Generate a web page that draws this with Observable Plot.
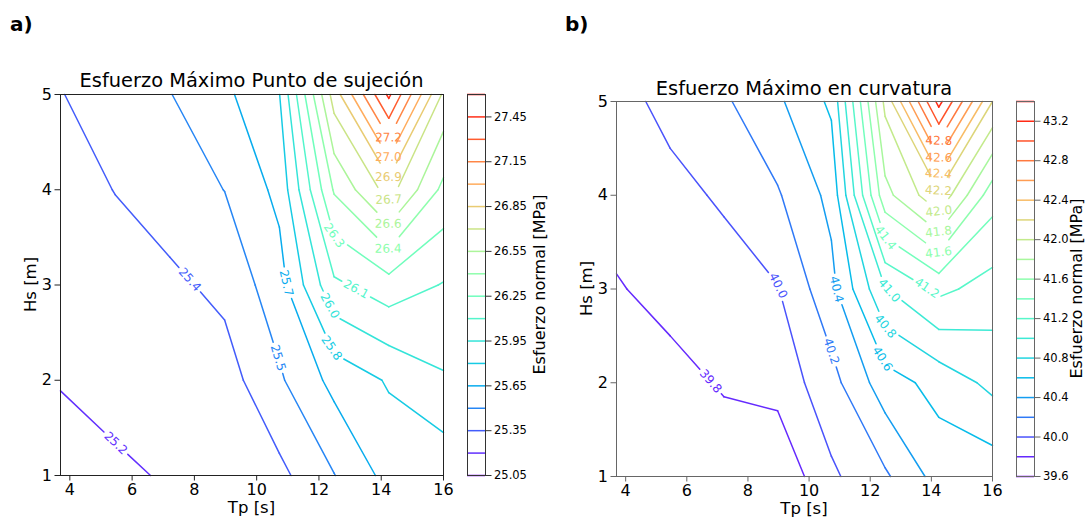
<!DOCTYPE html>
<html><head><meta charset="utf-8">
<script src="https://cdn.jsdelivr.net/npm/d3@7"></script>
<script src="https://cdn.jsdelivr.net/npm/@observablehq/plot@0.6"></script>
<style>
body{margin:0;background:#fff;font-family:"DejaVu Sans",sans-serif;}
#root{position:relative;width:1086px;height:521px;overflow:hidden;background:#fff}
#root > div{position:absolute;top:0}
#root svg{overflow:visible}
</style></head><body><div id="root"></div>
<script>
// ---------------- data ----------------
const tpGrid = [3.7, 5.457, 7.214, 8.971, 10.729, 12.486, 14.243, 16.0];
const hsGrid = [1, 2, 3, 4, 5];
// panel a) stress at grid nodes, rows = Hs 1..5, columns = tpGrid
const valuesA = [
  [25.160, 25.180, 25.211, 25.260, 25.311, 25.495, 25.700, 25.690],
  [25.205, 25.238, 25.260, 25.283, 25.479, 25.695, 25.815, 25.934],
  [25.252, 25.295, 25.318, 25.389, 25.588, 26.070, 26.185, 26.091],
  [25.298, 25.353, 25.428, 25.502, 25.690, 26.416, 26.760, 26.360],
  [25.345, 25.410, 25.495, 25.618, 25.795, 26.770, 27.480, 26.670]
];
// panel b)
const valuesB = [
  [39.680, 39.640, 39.630, 39.636, 39.964, 40.168, 40.480, 40.475],
  [39.730, 39.696, 39.830, 39.870, 40.130, 40.510, 40.670, 40.853],
  [39.775, 39.904, 39.923, 39.990, 40.340, 40.990, 41.250, 41.115],
  [39.930, 39.950, 40.023, 40.180, 40.455, 41.735, 42.155, 41.485],
  [39.940, 40.050, 40.170, 40.366, 40.636, 42.050, 43.267, 42.200]
];
const levelsA = [25.05, 25.20, 25.35, 25.50, 25.65, 25.80, 25.95, 26.10, 26.25, 26.40, 26.55, 26.70, 26.85, 27.00, 27.15, 27.30, 27.45, 27.60];
const levelsB = [39.6, 39.8, 40.0, 40.2, 40.4, 40.6, 40.8, 41.0, 41.2, 41.4, 41.6, 41.8, 42.0, 42.2, 42.4, 42.6, 42.8, 43.0, 43.2, 43.4];
const cbTicksA = [25.05, 25.35, 25.65, 25.95, 26.25, 26.55, 26.85, 27.15, 27.45];
const cbTicksB = [39.6, 40.0, 40.4, 40.8, 41.2, 41.6, 42.0, 42.4, 42.8, 43.2];
const xTicks = [4, 6, 8, 10, 12, 14, 16];
const yTicks = [1, 2, 3, 4, 5];
// inline contour labels: [text, level, Tp, Hs]
const labelsA = [
  ["25.2", 25.20, 5.48, 1.34], ["25.4", 25.35, 7.76, 3.03], ["25.5", 25.50, 10.74, 2.24],
  ["25.7", 25.65, 10.94, 3.02], ["25.8", 25.80, 12.49, 2.35], ["26.0", 25.95, 12.49, 2.80],
  ["26.1", 26.10, 13.30, 3.02], ["26.3", 26.25, 12.49, 3.52], ["26.4", 26.40, 14.22, 3.38],
  ["26.6", 26.55, 14.22, 3.64], ["26.7", 26.70, 14.22, 3.89], ["26.9", 26.85, 14.22, 4.13],
  ["27.0", 27.00, 14.22, 4.34], ["27.2", 27.15, 14.22, 4.545]
];
const labelsB = [
  ["39.8", 39.8, 6.80, 2.02], ["40.0", 40.0, 9.03, 3.04], ["40.2", 40.2, 10.77, 2.34],
  ["40.4", 40.4, 10.93, 3.00], ["40.6", 40.6, 12.51, 2.27], ["40.8", 40.8, 12.51, 2.61],
  ["41.0", 41.0, 12.61, 2.98], ["41.2", 41.2, 13.87, 3.02], ["41.4", 41.4, 12.51, 3.55],
  ["41.6", 41.6, 14.24, 3.39], ["41.8", 41.8, 14.24, 3.61], ["42.0", 42.0, 14.24, 3.82],
  ["42.2", 42.2, 14.24, 4.05], ["42.4", 42.4, 14.24, 4.23], ["42.6", 42.6, 14.24, 4.40],
  ["42.8", 42.8, 14.24, 4.58]
];

// ---------------- helpers ----------------
const X_DOMAIN = [3.7, 16], Y_DOMAIN = [1, 5];
const FONT = "DejaVu Sans";
const LABEL_FS = 12;
function rainbow(t) {
  t = Math.max(0, Math.min(1, t));
  const r = Math.min(1, Math.abs(2 * t - 0.5)), g = Math.sin(Math.PI * t), b = Math.cos(Math.PI * t / 2);
  return d3.rgb(r * 255, g * 255, b * 255).formatHex();
}
function contourSegments(values, level) {
  const segs = [];
  for (let j = 0; j < hsGrid.length - 1; j++) for (let i = 0; i < tpGrid.length - 1; i++) {
    const x0 = tpGrid[i], x1 = tpGrid[i + 1], y0 = hsGrid[j], y1 = hsGrid[j + 1];
    const vbl = values[j][i], vbr = values[j][i + 1], vtr = values[j + 1][i + 1], vtl = values[j + 1][i];
    const cross = (a, b) => (a > level) !== (b > level);
    const lerp = (a, b, va, vb) => a + (level - va) / (vb - va) * (b - a);
    const p = {};
    if (cross(vbl, vbr)) p.b = [lerp(x0, x1, vbl, vbr), y0];
    if (cross(vbr, vtr)) p.r = [x1, lerp(y0, y1, vbr, vtr)];
    if (cross(vtl, vtr)) p.t = [lerp(x0, x1, vtl, vtr), y1];
    if (cross(vbl, vtl)) p.l = [x0, lerp(y0, y1, vbl, vtl)];
    const k = Object.keys(p);
    if (k.length === 2) segs.push([p[k[0]], p[k[1]]]);
    else if (k.length === 4) {
      const c = (vbl + vbr + vtr + vtl) / 4;
      if ((c > level) === (vbl > level)) { segs.push([p.b, p.r]); segs.push([p.t, p.l]); }
      else { segs.push([p.l, p.b]); segs.push([p.r, p.t]); }
    }
  }
  return segs;
}
function nearestOnSeg(A, B, P) {
  const dx = B[0] - A[0], dy = B[1] - A[1];
  const L = dx * dx + dy * dy;
  let t = L ? ((P[0] - A[0]) * dx + (P[1] - A[1]) * dy) / L : 0;
  t = Math.max(0, Math.min(1, t));
  return [A[0] + t * dx, A[1] + t * dy];
}
function circleT(A, B, C, r) {
  const dx = B[0] - A[0], dy = B[1] - A[1], fx = A[0] - C[0], fy = A[1] - C[1];
  const a = dx * dx + dy * dy, b = 2 * (fx * dx + fy * dy), c = fx * fx + fy * fy - r * r;
  const disc = b * b - 4 * a * c;
  if (disc <= 0 || a === 0) return null;
  const s = Math.sqrt(disc);
  return [(-b - s) / (2 * a), (-b + s) / (2 * a)];
}
function textWidth(s, fs) {
  let w = 0;
  for (const ch of s) w += ch === "." ? 0.318 : 0.636;
  return w * fs;
}
function panelData(values, levels, labels, aw, ah) {
  const [x0, x1] = X_DOMAIN, [y0, y1] = Y_DOMAIN;
  const kx = aw / (x1 - x0), ky = ah / (y1 - y0);
  const toPx = p => [(p[0] - x0) * kx, (y1 - p[1]) * ky];
  const fromPx = p => [x0 + p[0] / kx, y1 - p[1] / ky];
  const vmin = levels[0], vmax = levels[levels.length - 1];
  const color = v => rainbow((v - vmin) / (vmax - vmin));
  const segsByLevel = levels.map(L => contourSegments(values, L).map(s => s.map(toPx)));
  const circles = levels.map(() => []);
  const labelOut = [];
  for (const [text, L, tp, hs] of labels) {
    const li = levels.findIndex(v => Math.abs(v - L) < 1e-9);
    const segs = segsByLevel[li];
    const P = toPx([tp, hs]);
    let best = null, bd = Infinity;
    for (const [A, B] of segs) {
      const q = nearestOnSeg(A, B, P);
      const d = (q[0] - P[0]) ** 2 + (q[1] - P[1]) ** 2;
      if (d < bd) { bd = d; best = q; }
    }
    if (!best) continue;
    const r = textWidth(text, LABEL_FS) / 2;
    const hits = [];
    for (const [A, B] of segs) {
      const ts = circleT(A, B, best, r);
      if (!ts) continue;
      for (const t of ts) if (t >= 0 && t <= 1) hits.push([A[0] + t * (B[0] - A[0]), A[1] + t * (B[1] - A[1])]);
    }
    let ang = 0, bestD = -1;
    for (let i = 0; i < hits.length; i++) for (let j = i + 1; j < hits.length; j++) {
      const dx = hits[j][0] - hits[i][0], dy = hits[j][1] - hits[i][1], d = dx * dx + dy * dy;
      if (d > bestD) { bestD = d; ang = Math.atan2(dy, dx) * 180 / Math.PI; }
    }
    if (ang > 90) ang -= 180;
    if (ang < -90) ang += 180;
    const [lx, ly] = fromPx(best);
    labelOut.push({x: lx, y: ly, text, angle: ang, color: color(L)});
    circles[li].push({c: best, r: r + 3});
  }
  const segOut = [];
  segsByLevel.forEach((segs, li) => {
    for (const [A, B] of segs) {
      let keep = [[0, 1]];
      for (const {c, r} of circles[li]) {
        const ts = circleT(A, B, c, r);
        if (!ts) continue;
        const [t1, t2] = ts;
        const next = [];
        for (const [s, e] of keep) {
          if (t2 <= s || t1 >= e) { next.push([s, e]); continue; }
          if (t1 > s) next.push([s, t1]);
          if (t2 < e) next.push([t2, e]);
        }
        keep = next;
      }
      for (const [s, e] of keep) {
        const p = [A[0] + s * (B[0] - A[0]), A[1] + s * (B[1] - A[1])];
        const q = [A[0] + e * (B[0] - A[0]), A[1] + e * (B[1] - A[1])];
        const [ax, ay] = fromPx(p), [bx, by] = fromPx(q);
        segOut.push({x1: ax, y1: ay, x2: bx, y2: by, color: color(levels[li])});
      }
    }
  });
  return {segOut, labelOut, color};
}

// ---------------- drawing ----------------
const root = document.getElementById("root");
function place(node, left) {
  const div = document.createElement("div");
  div.style.left = left + "px";
  div.appendChild(node);
  root.appendChild(div);
}
function mainPlot({values, levels, labels, width, mL, mR, mT, mB, frame}) {
  const aw = width - mL - mR, ah = 521 - mT - mB;
  const {segOut, labelOut} = panelData(values, levels, labels, aw, ah);
  return Plot.plot({
    width, height: 521, marginLeft: mL, marginRight: mR, marginTop: mT, marginBottom: mB,
    style: {background: "none", fontFamily: FONT, overflow: "visible"},
    x: {domain: X_DOMAIN}, y: {domain: Y_DOMAIN}, color: {type: "identity"},
    marks: [
      Plot.link(segOut, {x1: "x1", y1: "y1", x2: "x2", y2: "y2", stroke: "color", strokeWidth: 1.5, strokeLinecap: "round"}),
      Plot.text(labelOut, {x: "x", y: "y", text: "text", rotate: "angle", fill: "color", fontSize: LABEL_FS, fontFamily: FONT, textAnchor: "middle", lineAnchor: "middle"}),
      Plot.frame({stroke: frame}),
      Plot.axisX({ticks: xTicks, tickFormat: d3.format("d"), tickSize: 5.5, tickPadding: 3, fontSize: 16, stroke: frame, fill: "#000", label: null}),
      Plot.axisY({ticks: yTicks, tickFormat: d3.format("d"), tickSize: 5.5, tickPadding: 3, fontSize: 16, stroke: frame, fill: "#000", label: null})
    ]
  });
}
function colorbar({levels, ticks, fmt, width, mL, mT, mB, frame}) {
  const vmin = levels[0], vmax = levels[levels.length - 1];
  return Plot.plot({
    width, height: 521, marginLeft: mL, marginRight: width - mL - 18, marginTop: mT, marginBottom: mB,
    style: {background: "none", fontFamily: FONT, overflow: "visible"},
    x: {domain: [0, 1], axis: null}, y: {domain: [vmin, vmax]}, color: {type: "identity"},
    marks: [
      Plot.ruleY(levels, {y: d => d, stroke: d => rainbow((d - vmin) / (vmax - vmin)), strokeWidth: 1.5}),
      Plot.frame({stroke: frame}),
      Plot.axisY({anchor: "right", ticks, tickFormat: d3.format(fmt), tickSize: 5.5, tickPadding: 3, fontSize: 11.5, stroke: frame, fill: "#000", label: null})
    ]
  });
}

place(mainPlot({values: valuesA, levels: levelsA, labels: labelsA, width: 460, mL: 60, mR: 17, mT: 94, mB: 46, frame: "#222"}), 0);
place(colorbar({levels: levelsA, ticks: cbTicksA, fmt: ".2f", width: 100, mL: 27, mT: 94, mB: 46, frame: "#333"}), 440);
place(mainPlot({values: valuesB, levels: levelsB, labels: labelsB, width: 453, mL: 60, mR: 17, mT: 101, mB: 45, frame: "#666"}), 556);
place(colorbar({levels: levelsB, ticks: cbTicksB, fmt: ".1f", width: 96, mL: 26, mT: 101, mB: 45, frame: "#666"}), 990);

// ---------------- titles and axis labels ----------------
const ov = d3.select(root).append("svg")
  .attr("width", 1086).attr("height", 521)
  .style("position", "absolute").style("left", 0).style("top", 0)
  .style("font-family", FONT).style("pointer-events", "none");
const T = (x, y, s, o = {}) => {
  const t = ov.append("text").attr("x", x).attr("y", y).text(s)
    .attr("font-size", o.fs || 16).attr("text-anchor", o.anchor || "middle").attr("fill", "#000");
  if (o.bold) t.attr("font-weight", "bold");
  if (o.rot) t.attr("transform", `rotate(${o.rot},${x},${y})`);
  return t;
};
T(10, 31, "a)", {fs: 20, bold: true, anchor: "start"});
T(565, 31, "b)", {fs: 20, bold: true, anchor: "start"});
T(251.5, 87, "Esfuerzo Máximo Punto de sujeción", {fs: 19.4});
T(804, 95, "Esfuerzo Máximo en curvatura", {fs: 19.4});
T(251.5, 513, "Tp [s]", {fs: 16.5});
T(804, 514, "Tp [s]", {fs: 16.5});
T(36, 284.5, "Hs [m]", {fs: 16.5, rot: -90});
T(592, 288.5, "Hs [m]", {fs: 16.5, rot: -90});
T(545, 284.5, "Esfuerzo normal [MPa]", {fs: 16, rot: -90});
T(1082, 288.5, "Esfuerzo normal [MPa]", {fs: 16, rot: -90});
</script></body></html>
